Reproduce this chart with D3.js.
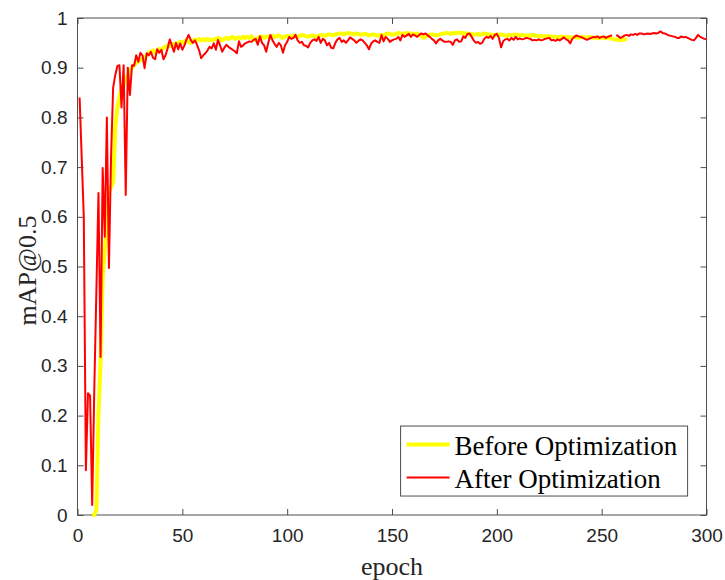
<!DOCTYPE html>
<html>
<head>
<meta charset="utf-8">
<script src="https://cdn.jsdelivr.net/npm/d3@7"></script>
<style>
  body { margin: 0; background: #fff; }
  .tick-label { font-family: "Liberation Sans", Arial, sans-serif; font-size: 19px; fill: #262626; }
  .title-styling { font-family: "Liberation Serif", "Times New Roman", serif; font-size: 26px; fill: #262626; }
  .legend-styling { font-family: "Liberation Serif", "Times New Roman", serif; font-size: 27px; fill: #000; }
</style>
</head>
<body>
<div id="viz"></div>
<script>

// before optimization starts at epoch 7
const beforeStart = 7;
const beforeValues = [
  0.000, 0.000, 0.010, 0.200,
  0.310, 0.480, 0.530, 0.580, 0.650, 0.660, 0.670, 0.780, 0.820, 0.840,
  0.860, 0.865, 0.875, 0.885, 0.895, 0.900, 0.905, 0.910, 0.912, 0.915,
  0.918, 0.920, 0.925, 0.930, 0.932, 0.935, 0.930, 0.933, 0.938, 0.935,
  0.940, 0.942, 0.945, 0.943, 0.946, 0.948, 0.945, 0.950, 0.952, 0.950,
  0.953, 0.955, 0.952, 0.950, 0.954, 0.956, 0.955, 0.958, 0.955, 0.957,
  0.955, 0.958, 0.956, 0.955, 0.957, 0.958, 0.960, 0.957, 0.955, 0.958,
  0.960, 0.958, 0.960, 0.962, 0.958, 0.960, 0.961, 0.959, 0.962, 0.960,
  0.962, 0.960, 0.963, 0.958, 0.955, 0.960, 0.962, 0.963, 0.960, 0.962,
  0.963, 0.961, 0.964, 0.962, 0.963, 0.965, 0.962, 0.960, 0.963, 0.964,
  0.962, 0.963, 0.965, 0.963, 0.962, 0.964, 0.966, 0.965, 0.963, 0.962,
  0.964, 0.965, 0.963, 0.962, 0.964, 0.966, 0.965, 0.964, 0.966, 0.967,
  0.966, 0.965, 0.967, 0.968, 0.969, 0.968, 0.967, 0.969, 0.970, 0.969,
  0.968, 0.967, 0.969, 0.968, 0.966, 0.967, 0.968, 0.967, 0.965, 0.966,
  0.967, 0.966, 0.964, 0.965, 0.966, 0.965, 0.967, 0.969, 0.968, 0.966,
  0.967, 0.968, 0.970, 0.969, 0.968, 0.969, 0.970, 0.968, 0.969, 0.967,
  0.968, 0.969, 0.966, 0.964, 0.960, 0.962, 0.965, 0.966, 0.967, 0.966,
  0.965, 0.966, 0.967, 0.968, 0.969, 0.970, 0.969, 0.968, 0.970, 0.969,
  0.970, 0.971, 0.969, 0.970, 0.968, 0.969, 0.967, 0.968, 0.966, 0.967,
  0.968, 0.966, 0.967, 0.969, 0.968, 0.966, 0.967, 0.966, 0.965, 0.967,
  0.966, 0.967, 0.966, 0.965, 0.964, 0.966, 0.965, 0.966, 0.967, 0.966,
  0.965, 0.966, 0.965, 0.964, 0.965, 0.964, 0.966, 0.965, 0.964, 0.963,
  0.964, 0.963, 0.962, 0.964, 0.963, 0.962, 0.963, 0.962, 0.961, 0.962,
  0.963, 0.962, 0.961, 0.962, 0.960, 0.961, 0.962, 0.961, 0.960, 0.961,
  0.962, 0.961, 0.960, 0.962, 0.961, 0.960, 0.961, 0.959, 0.960, 0.961,
  0.960, 0.959, 0.961, 0.960, 0.958, 0.957, 0.956, 0.957, 0.955, 0.956,
  0.957, 0.958
];

// after optimization, epochs 1..300 (one missing point)
const afterStart = 1;
const afterValues = [
  0.840, 0.720, 0.600, 0.090, 0.245, 0.240, 0.020, 0.250, 0.450, 0.648,
  0.318, 0.698, 0.560, 0.800, 0.497, 0.720, 0.860, 0.885, 0.903, 0.905,
  0.820, 0.905, 0.644, 0.900, 0.845, 0.905, 0.904, 0.925, 0.912, 0.930,
  0.925, 0.899, 0.929, 0.925, 0.932, 0.920, 0.917, 0.937, 0.930, 0.936,
  0.917, 0.925, 0.939, 0.957, 0.945, 0.932, 0.950, 0.937, 0.949, 0.936,
  0.945, 0.957, 0.966, 0.956, 0.950, 0.955, 0.946, 0.935, 0.919, 0.925,
  0.929, 0.935, 0.942, 0.939, 0.949, 0.936, 0.956, 0.945, 0.932, 0.940,
  0.946, 0.942, 0.939, 0.936, 0.933, 0.929, 0.953, 0.942, 0.945, 0.949,
  0.951, 0.953, 0.952, 0.956, 0.958, 0.946, 0.963, 0.950, 0.945, 0.932,
  0.950, 0.966, 0.955, 0.948, 0.942, 0.950, 0.945, 0.930, 0.945, 0.952,
  0.962, 0.958, 0.960, 0.966, 0.955, 0.950, 0.952, 0.945, 0.944, 0.941,
  0.950, 0.955, 0.957, 0.954, 0.962, 0.950, 0.958, 0.955, 0.945, 0.950,
  0.940, 0.939, 0.950, 0.957, 0.960, 0.952, 0.955, 0.950, 0.955, 0.961,
  0.958, 0.955, 0.950, 0.954, 0.957, 0.955, 0.950, 0.945, 0.937, 0.948,
  0.953, 0.955, 0.952, 0.950, 0.966, 0.953, 0.962, 0.958, 0.952, 0.955,
  0.957, 0.958, 0.962, 0.955, 0.966, 0.962, 0.965, 0.968, 0.962, 0.967,
  0.965, 0.962, 0.966, 0.969, 0.967, 0.969, 0.965, 0.962, 0.958, 0.955,
  0.949, 0.955, 0.958, 0.955, 0.952, 0.952, 0.953, 0.952, 0.946, 0.955,
  0.957, 0.952, 0.953, 0.963, 0.960, 0.968, 0.969, 0.962, 0.955, 0.950,
  0.952, 0.948, 0.950, 0.958, 0.962, 0.960, 0.964, 0.958, 0.966, 0.968,
  0.960, 0.941, 0.953, 0.957, 0.958, 0.955, 0.960, 0.956, 0.962, 0.957,
  0.959, 0.957, 0.958, 0.960, 0.959, 0.958, 0.955, 0.956, 0.955, 0.957,
  0.955, 0.956, 0.958, 0.959, 0.960, 0.955, 0.956, 0.954, 0.957, 0.955,
  0.958, 0.961, 0.957, 0.955, 0.949, 0.958, 0.962, 0.965, 0.963, 0.962,
  0.960, 0.958, 0.956, 0.958, 0.960, 0.962, 0.961, 0.963, 0.960, 0.962,
  0.963, 0.960, 0.962, 0.964, 0.965, null, 0.966, 0.963, 0.960, 0.962,
  0.965, 0.966, 0.964, 0.967, 0.966, 0.968, 0.966, 0.969, 0.969, 0.967,
  0.968, 0.969, 0.968, 0.969, 0.970, 0.969, 0.970, 0.973, 0.970, 0.969,
  0.967, 0.965, 0.964, 0.963, 0.962, 0.960, 0.960, 0.963, 0.961, 0.962,
  0.960, 0.958, 0.956, 0.955, 0.960, 0.966, 0.962, 0.960, 0.958, 0.957
];

const xTicks = [0, 50, 100, 150, 200, 250, 300];
const yTicks = [0, 0.1, 0.2, 0.3, 0.4, 0.5, 0.6, 0.7, 0.8, 0.9, 1];
const seriesNames = ["Before Optimization", "After Optimization"];
const seriesColors = ["#ffff00", "#ff0000"];
const seriesWidths = [4, 2];

const margin = {top: 18, right: 18.5, bottom: 65, left: 77.5},
    width = 725 - margin.left - margin.right,
    height = 580 - margin.top - margin.bottom;

const axisColor = "#4d4d4d";
const tickLen = 6;

const svg = d3.select("#viz")
  .append("svg")
  .attr("width", 725)
  .attr("height", 580)
  .append("g")
    .attr("transform", `translate(${margin.left}, ${margin.top})`);

const x = d3.scaleLinear().domain([0, 300]).range([0, width]);
const y = d3.scaleLinear().domain([0, 1]).range([height, 0]);

const before = beforeValues.map((v, i) => ({epoch: beforeStart + i, value: v}));
const after = afterValues.map((v, i) => ({epoch: afterStart + i, value: v}));

// box around plot
svg.append("rect")
  .attr("x", 0).attr("y", 0)
  .attr("width", width).attr("height", height)
  .attr("fill", "none")
  .attr("stroke", axisColor)
  .attr("stroke-width", 1);

// inward ticks on all four sides (matlab style)
const axisFmt = d => d3.format("")(+d.toFixed(1));

const xBottom = svg.append("g")
  .attr("transform", `translate(0, ${height})`)
  .call(d3.axisBottom(x).tickValues(xTicks).tickSizeInner(-tickLen).tickSizeOuter(0).tickPadding(14).tickFormat(d3.format("d")));
const xTop = svg.append("g")
  .call(d3.axisTop(x).tickValues(xTicks).tickSizeInner(-tickLen).tickSizeOuter(0).tickFormat(""));
const yLeft = svg.append("g")
  .call(d3.axisLeft(y).tickValues(yTicks).tickSizeInner(-tickLen).tickSizeOuter(0).tickPadding(10).tickFormat(axisFmt));
const yRight = svg.append("g")
  .attr("transform", `translate(${width}, 0)`)
  .call(d3.axisRight(y).tickValues(yTicks).tickSizeInner(-tickLen).tickSizeOuter(0).tickFormat(""));

[xBottom, xTop, yLeft, yRight].forEach(g => {
  g.select(".domain").remove();
  g.selectAll(".tick line").attr("stroke", axisColor);
  g.selectAll(".tick text").attr("class", "tick-label").attr("fill", null).attr("font-family", null).attr("font-size", null);
});

// lines
const line = d3.line()
  .defined(d => d.value !== null)
  .x(d => x(d.epoch))
  .y(d => y(d.value));

[before, after].forEach((data, i) => {
  svg.append("path")
    .datum(data)
    .attr("fill", "none")
    .attr("stroke", seriesColors[i])
    .attr("stroke-width", seriesWidths[i])
    .attr("stroke-linejoin", "round")
    .attr("d", line);
});

// axis labels
svg.append("text")
  .attr("class", "title-styling")
  .attr("x", width / 2)
  .attr("y", height + 60)
  .attr("text-anchor", "middle")
  .text("epoch");

svg.append("text")
  .attr("class", "title-styling")
  .attr("transform", `translate(${-margin.left + 36}, ${height / 2 + 4}) rotate(-90)`)
  .attr("text-anchor", "middle")
  .text("mAP@0.5");

// legend
const legend = svg.append("g")
  .attr("transform", `translate(${x(154.1)}, ${y(0.179)})`);

legend.append("rect")
  .attr("width", 287).attr("height", 70)
  .attr("fill", "#fff")
  .attr("stroke", axisColor)
  .attr("stroke-width", 1);

seriesNames.forEach((name, i) => {
  const row = legend.append("g").attr("transform", `translate(0, ${18.5 + i * 33})`);
  row.append("line")
    .attr("x1", 6).attr("x2", 49)
    .attr("stroke", seriesColors[i])
    .attr("stroke-width", seriesWidths[i]);
  row.append("text")
    .attr("class", "legend-styling")
    .attr("x", 54)
    .attr("y", 10.5)
    .text(name);
});

</script>
</body>
</html>
